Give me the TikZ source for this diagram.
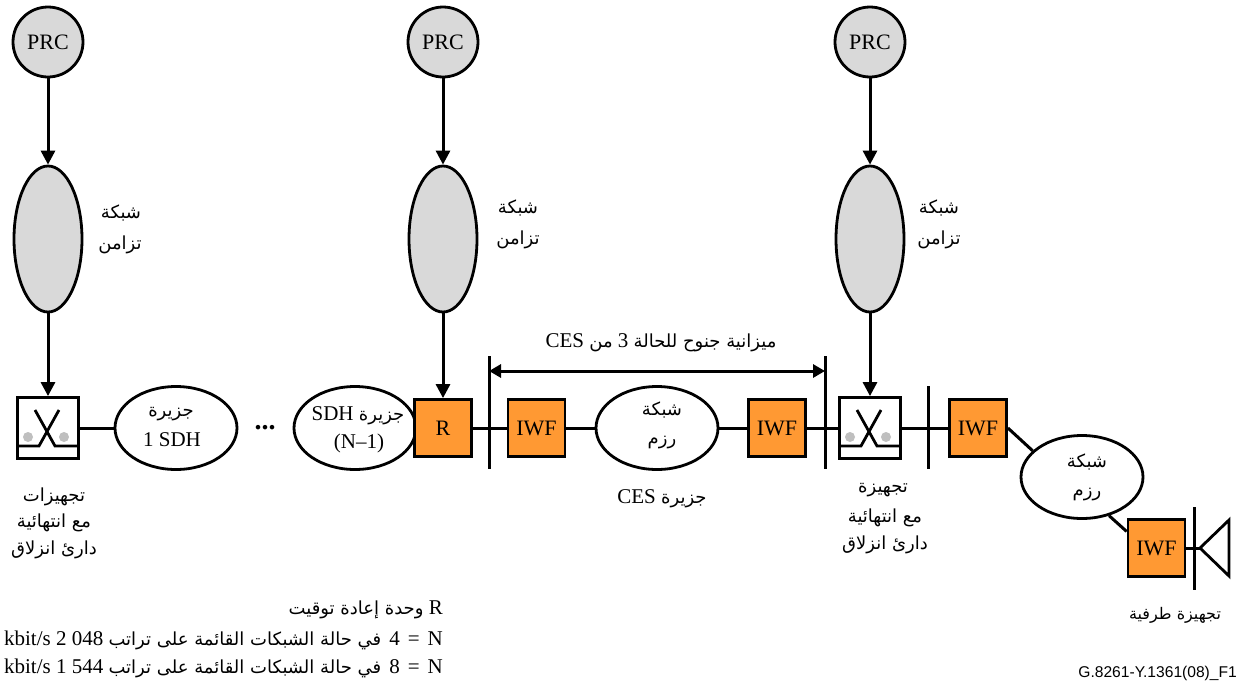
\documentclass[tikz,border=0pt]{standalone}
\usepackage{fontspec}
\setmainfont{Liberation Serif}
\newfontfamily\arabicfont[Script=Arabic]{DejaVu Sans}
\newfontfamily\tagfont{Liberation Sans}
\TeXXeTstate=1
\usetikzlibrary{shapes.geometric,arrows.meta}
\newcommand{\ar}[1]{{\fontsize{18}{20}\arabicfont #1}}
\newcommand{\arl}[1]{\ar{\beginR #1\endR}}
\newcommand{\ltr}[1]{\beginL #1\endL{}}
\newcommand{\wsp}{\hskip8pt}
\definecolor{iwforange}{HTML}{FF9933}
\definecolor{syncgray}{HTML}{D9D9D9}
\tikzset{
  line/.style={line width=3pt},
  flow/.style={line width=3pt,-{Triangle[length=14pt,width=14pt]}},
  prc/.style={circle,draw,line width=2.8pt,fill=syncgray,minimum size=70pt,inner sep=0pt,font=\fontsize{22}{24}\selectfont},
  syncnet/.style={ellipse,draw,line width=2.8pt,fill=syncgray,minimum width=68pt,minimum height=146pt,inner sep=0pt},
  island/.style={ellipse,draw,line width=2.8pt,fill=white,minimum width=122pt,minimum height=83pt,inner sep=0pt},
  orangebox/.style={rectangle,draw,line width=2.8pt,fill=iwforange,minimum size=57pt,inner sep=0pt,font=\fontsize{22}{24}\selectfont},
  slipbox/.style={rectangle,draw,line width=2.8pt,fill=white,minimum size=61pt,inner sep=0pt},
  lbl/.style={inner sep=0pt,font=\fontsize{21}{24}\selectfont},
  notelbl/.style={inner sep=0pt,anchor=east,font=\fontsize{21}{24}\selectfont},
}
\newcommand{\slipmark}[1]{%
  \fill[gray!50] ([shift={(-20pt,-9pt)}]#1.center) circle (5pt);
  \fill[gray!50] ([shift={(16pt,-9pt)}]#1.center) circle (5pt);
  \draw[line width=2.8pt] ([shift={(-13pt,18pt)}]#1.center) -- ([shift={(7pt,-18pt)}]#1.center) -- ([shift={(30.5pt,-18pt)}]#1.center);
  \draw[line width=2.8pt] ([shift={(11pt,18pt)}]#1.center) -- ([shift={(-9pt,-18pt)}]#1.center) -- ([shift={(-30.5pt,-18pt)}]#1.center);
}
\begin{document}
\begin{tikzpicture}[x=1pt,y=-1pt]
\useasboundingbox (0,0) rectangle (1237,683);
% PRC
\node[prc] (prcA) at (48,42) {PRC};
\node[prc] (prcB) at (443,42) {PRC};
\node[prc] (prcC) at (870,42) {PRC};
% sync networks
\node[syncnet] (syncA) at (48,239) {};
\node[syncnet] (syncB) at (443,239) {};
\node[syncnet] (syncC) at (870,239) {};
% row
\node[slipbox] (slipA) at (48,428) {};
\node[slipbox] (slipB) at (870,428) {};
\node[island] (sdhA) at (176,428) {};
\node[island] (sdhB) at (355,428) {};
\node[orangebox] (rbox) at (443,428) {R};
\node[orangebox] (iwfA) at (536.5,428) {IWF};
\node[island] (pktA) at (657,428) {};
\node[orangebox] (iwfB) at (777,428) {IWF};
\node[orangebox] (iwfC) at (978,428) {IWF};
\node[island] (pktB) at (1082,477) {};
\node[orangebox] (iwfD) at (1156.5,548) {IWF};
\slipmark{slipA}
\slipmark{slipB}
% arrows
\draw[flow] (prcA) -- (syncA);
\draw[flow] (prcB) -- (syncB);
\draw[flow] (prcC) -- (syncC);
\draw[flow] (syncA) -- (slipA);
\draw[flow] (syncB) -- (rbox);
\draw[flow] (syncC) -- (slipB);
% connectors
\draw[line] (slipA.east) -- (sdhA.west);
\draw[line] (rbox.east) -- (iwfA.west);
\draw[line] (iwfA.east) -- (pktA.west);
\draw[line] (pktA.east) -- (iwfB.west);
\draw[line] (iwfB.east) -- (slipB.west);
\draw[line] (slipB.east) -- (iwfC.west);
\draw[line] (iwfC.east) -- (pktB.152);
\draw[line] (pktB.-55) -- (iwfD.151);
% bars
\coordinate (barAt) at (489,356); \coordinate (barAb) at (489,469);
\coordinate (barBt) at (825,356); \coordinate (barBb) at (825,469);
\coordinate (barCt) at (928,386); \coordinate (barCb) at (928,469);
\coordinate (barDt) at (1194,507); \coordinate (barDb) at (1194,590);
\draw[line] (barAt) -- (barAb);
\draw[line] (barBt) -- (barBb);
\draw[line] (barCt) -- (barCb);
\draw[line] (barDt) -- (barDb);
\coordinate (spanA) at (489,371); \coordinate (spanB) at (825,371);
\draw[line width=3pt,{Triangle[length=12pt,width=13pt]}-{Triangle[length=12pt,width=13pt]}] (spanA) -- (spanB);
% terminal
\coordinate (hornA) at (1200,548); \coordinate (hornB) at (1229,520); \coordinate (hornC) at (1229,576);
\draw[line] (iwfD.east) -- (hornA);
\draw[line width=2.8pt,line join=miter] (hornA) -- (hornB) -- (hornC) -- cycle;
% texts
\node[lbl] (tA1) at (121,213) {\arl{شبكة}};
\node[lbl] (tA2) at (120,245) {\arl{تزامن}};
\node[lbl] (tB1) at (518,208) {\arl{شبكة}};
\node[lbl] (tB2) at (518,240) {\arl{تزامن}};
\node[lbl] (tC1) at (939,208) {\arl{شبكة}};
\node[lbl] (tC2) at (939,240) {\arl{تزامن}};
\node[lbl] (s1a) at (171,414) {\arl{جزيرة}};
\node[lbl] (s1b) at (172,440) {1 SDH};
\node[lbl] (s2a) at (358,416) {\beginR\ar{جزيرة} \ltr{SDH}\endR};
\node[lbl] (s2b) at (359,443) {(N–1)};
\node[lbl,font=\fontsize{28}{30}\selectfont\bfseries] (dots) at (265,428) {...};
\node[lbl] (p1a) at (662,410) {\arl{شبكة}};
\node[lbl] (p1b) at (662,443) {\arl{رزم}};
\node[lbl] (p2a) at (1087,462) {\arl{شبكة}};
\node[lbl] (p2b) at (1087,495) {\arl{رزم}};
\node[lbl] (ces) at (662,499) {\beginR\ar{جزيرة} \ltr{CES}\endR};
\node[lbl] (budget) at (661,343) {\beginR\ar{ميزانية جنوح للحالة} \ltr{3} \ar{من} \ltr{CES}\endR};
\node[lbl] (eA1) at (54,497) {\arl{تجهيزات}};
\node[lbl] (eA2) at (54,523) {\arl{مع انتهائية}};
\node[lbl] (eA3) at (54,550) {\arl{دارئ انزلاق}};
\node[lbl] (eB1) at (883,490) {\arl{تجهيزة}};
\node[lbl] (eB2) at (885,518) {\arl{مع انتهائية}};
\node[lbl] (eB3) at (885,545) {\arl{دارئ انزلاق}};
\node[lbl] (term) at (1175,615) {\ar{\fontsize{16}{18}\selectfont\beginR تجهيزة طرفية\endR}};
\node[notelbl] (n1) at (443,610) {\beginR\ltr{R} \ar{وحدة إعادة توقيت}\endR};
\node[notelbl] (n2) at (443,640) {\beginR\ltr{N}\wsp=\wsp\ltr{4}\wsp\ar{في حالة الشبكات القائمة على تراتب} \ltr{048} \ltr{2} \ltr{kbit/s}\endR};
\node[notelbl] (n3) at (443,668) {\beginR\ltr{N}\wsp=\wsp\ltr{8}\wsp\ar{في حالة الشبكات القائمة على تراتب} \ltr{544} \ltr{1} \ltr{kbit/s}\endR};
\node[inner sep=0pt,anchor=east,font=\tagfont\fontsize{15.6}{18}\selectfont] (tag) at (1237,673) {G.8261-Y.1361(08)\_F1};
\end{tikzpicture}
\end{document}
